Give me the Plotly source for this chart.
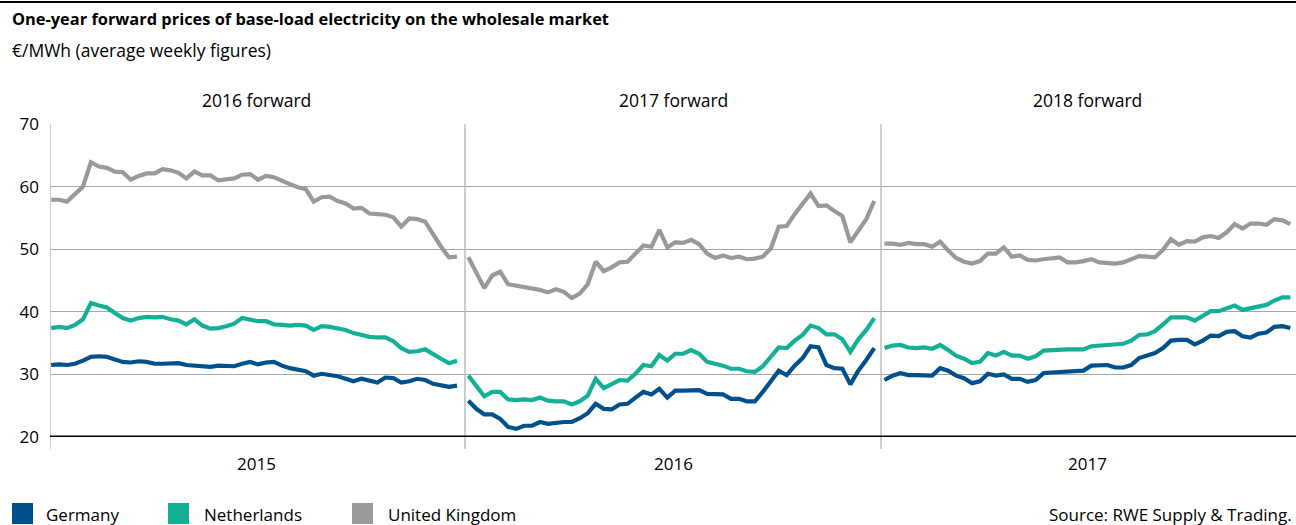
import pandas as pd
import plotly.graph_objects as go

# One-year forward prices, EUR/MWh, weekly averages per delivery year
forward_labels = ["2016 forward", "2017 forward", "2018 forward"]
trading_years = ["2015", "2016", "2017"]
week_starts = ["2015-01-02", "2016-01-04", "2017-01-04"]

germany_2016fwd = [31.5, 31.6, 31.5, 31.7, 32.2, 32.8, 32.9, 32.8, 32.4, 32.0,
                   31.9, 32.1, 32.0, 31.7, 31.7, 31.8, 31.8, 31.5, 31.4, 31.2,
                   31.2, 31.4, 31.3, 31.3, 31.7, 32.0, 31.6, 31.9, 32.0, 31.4,
                   31.0, 30.7, 30.5, 29.8, 30.1, 29.9, 29.7, 29.3, 28.9, 29.3,
                   29.0, 28.7, 29.5, 29.4, 28.7, 28.9, 29.3, 29.1, 28.5, 28.2,
                   28.0, 28.2]
netherlands_2016fwd = [37.4, 37.6, 37.4, 37.9, 38.8, 41.4, 41.0, 40.7, 39.8, 39.0,
                       38.6, 39.0, 39.2, 39.1, 39.2, 38.8, 38.6, 38.0, 38.8, 37.8,
                       37.3, 37.4, 37.7, 38.1, 39.0, 38.8, 38.5, 38.5, 38.0, 37.9,
                       37.8, 37.9, 37.8, 37.1, 37.7, 37.6, 37.4, 37.1, 36.6, 36.3,
                       36.0, 35.9, 35.9, 35.3, 34.2, 33.6, 33.7, 34.0, 33.2, 32.5,
                       31.8, 32.2]
uk_2016fwd = [57.9, 57.9, 57.6, 58.7, 60.0, 63.9, 63.2, 63.0, 62.4, 62.3,
              61.1, 61.7, 62.1, 62.1, 62.8, 62.6, 62.2, 61.3, 62.4, 61.8,
              61.8, 61.0, 61.1, 61.3, 61.9, 62.0, 61.1, 61.7, 61.5, 60.9,
              60.4, 59.9, 59.6, 57.6, 58.3, 58.4, 57.7, 57.3, 56.5, 56.6,
              55.7, 55.6, 55.5, 55.1, 53.6, 54.9, 54.8, 54.4, 52.3, 50.4,
              48.7, 48.8]

germany_2017fwd = [25.8, 24.5, 23.6, 23.6, 22.9, 21.6, 21.3, 21.8, 21.8, 22.4,
                   22.1, 22.3, 22.4, 22.4, 23.0, 23.8, 25.3, 24.5, 24.4, 25.2,
                   25.3, 26.3, 27.2, 26.8, 27.7, 26.3, 27.4, 27.4, 27.5, 27.5,
                   26.9, 26.9, 26.8, 26.1, 26.1, 25.7, 25.7, 27.2, 28.9, 30.6,
                   29.9, 31.4, 32.6, 34.5, 34.3, 31.5, 31.0, 30.9, 28.4, 30.6,
                   32.3, 34.2]
netherlands_2017fwd = [29.8, 28.1, 26.5, 27.2, 27.2, 26.0, 25.9, 26.0, 25.9, 26.3,
                       25.8, 25.7, 25.7, 25.2, 25.7, 26.6, 29.3, 27.8, 28.5, 29.1,
                       29.0, 30.1, 31.5, 31.3, 33.1, 32.2, 33.3, 33.3, 33.9, 33.3,
                       32.0, 31.7, 31.4, 30.9, 30.9, 30.5, 30.4, 31.3, 32.8, 34.3,
                       34.2, 35.4, 36.3, 37.8, 37.4, 36.4, 36.4, 35.6, 33.6, 35.6,
                       37.1, 39.0]
uk_2017fwd = [48.7, 46.2, 43.8, 45.8, 46.4, 44.4, 44.2, 44.0, 43.8, 43.5,
              43.1, 43.6, 43.2, 42.2, 42.9, 44.4, 48.0, 46.5, 47.1, 47.9,
              48.0, 49.3, 50.6, 50.4, 53.1, 50.3, 51.1, 51.0, 51.5, 50.8,
              49.3, 48.6, 49.0, 48.6, 48.8, 48.4, 48.5, 48.8, 50.1, 53.6,
              53.7, 55.6, 57.2, 58.9, 56.9, 57.0, 56.1, 55.3, 51.1, 53.1,
              54.8, 57.7]

germany_2018fwd = [29.1, 29.8, 30.2, 29.9, 29.9, 29.9, 29.8, 31.0, 30.6, 29.8,
                   29.4, 28.6, 28.9, 30.1, 29.8, 30.0, 29.3, 29.3, 28.8, 29.1,
                   30.2, 30.3, 30.4, 30.4, 30.6, 30.6, 31.4, 31.4, 31.5, 31.1,
                   31.1, 31.5, 32.6, 33.0, 33.4, 34.2, 35.4, 35.5, 35.5, 34.8,
                   35.4, 36.2, 36.1, 36.8, 36.9, 36.1, 35.9, 36.5, 36.7, 37.6,
                   37.7, 37.4]
netherlands_2018fwd = [34.2, 34.6, 34.7, 34.3, 34.2, 34.3, 34.1, 34.7, 33.9, 33.0,
                       32.5, 31.8, 32.0, 33.4, 33.0, 33.6, 33.0, 33.0, 32.5, 32.9,
                       33.8, 33.9, 34.0, 34.0, 34.0, 34.0, 34.5, 34.6, 34.8, 34.8,
                       34.9, 35.4, 36.3, 36.4, 36.9, 38.0, 39.1, 39.1, 39.1, 38.6,
                       39.3, 40.1, 40.1, 40.6, 41.0, 40.3, 40.6, 40.9, 41.1, 41.8,
                       42.3, 42.3]
uk_2018fwd = [50.9, 50.9, 50.7, 51.0, 50.8, 50.8, 50.4, 51.2, 49.8, 48.6,
              48.0, 47.7, 48.1, 49.3, 49.3, 50.3, 48.8, 49.0, 48.3, 48.2,
              48.4, 48.5, 48.7, 47.9, 47.9, 48.1, 48.4, 47.9, 47.8, 47.7,
              47.9, 48.4, 48.9, 48.8, 48.7, 49.9, 51.6, 50.7, 51.3, 51.2,
              51.9, 52.1, 51.8, 52.7, 54.0, 53.3, 54.1, 54.1, 53.9, 54.8,
              54.6, 54.0]

countries = ["Germany", "Netherlands", "United Kingdom"]
colors = {"Germany": "#00508c", "Netherlands": "#14b096", "United Kingdom": "#999999"}
panels = [
    {"Germany": germany_2016fwd, "Netherlands": netherlands_2016fwd, "United Kingdom": uk_2016fwd},
    {"Germany": germany_2017fwd, "Netherlands": netherlands_2017fwd, "United Kingdom": uk_2017fwd},
    {"Germany": germany_2018fwd, "Netherlands": netherlands_2018fwd, "United Kingdom": uk_2018fwd},
]

FONT = "Open Sans"
TXT = 17
W, H = 1296, 525
ML, MR, MT, MB = 50, 0, 124, 88
PW, PH = W - ML - MR, H - MT - MB


def px_x(p):
    return (p - ML) / PW


def px_y(p):
    return 1 - (p - MT) / PH


fig = go.Figure()
for start, panel in zip(week_starts, panels):
    for country in ["United Kingdom", "Netherlands", "Germany"]:
        vals = panel[country]
        dates = pd.date_range(start, periods=len(vals), freq="7D")
        fig.add_trace(go.Scatter(
            x=dates, y=vals, mode="lines", name=country, showlegend=False,
            line=dict(color=colors[country], width=4.2),
            hovertemplate=country + ": %{y:.1f} €/MWh<extra></extra>",
        ))

shapes = []
annotations = []

# rule across the top
shapes.append(dict(type="line", xref="paper", yref="paper",
                   x0=px_x(0), x1=px_x(W), y0=px_y(2), y1=px_y(2),
                   line=dict(color="#000000", width=2)))

# panel separators and left edge, extending below the axis
for boundary in ["2015-01-01", "2016-01-01", "2017-01-01"]:
    shapes.append(dict(type="line", xref="x", yref="paper",
                       x0=boundary, x1=boundary, y0=px_y(449), y1=1,
                       line=dict(color="#bdbdbd", width=1.5)))

# baseline at 20
shapes.append(dict(type="line", xref="paper", yref="y", x0=0, x1=1, y0=20, y1=20,
                   line=dict(color="#000000", width=3)))

annotations.append(dict(
    text="<b>One-year forward prices of base-load electricity on the wholesale market</b>",
    xref="paper", yref="paper", x=px_x(10), y=px_y(19), xanchor="left", yanchor="middle",
    showarrow=False, font=dict(family=FONT, size=16.4, color="#000000")))
annotations.append(dict(
    text="€/MWh (average weekly figures)",
    xref="paper", yref="paper", x=px_x(10), y=px_y(50), xanchor="left", yanchor="middle",
    showarrow=False, font=dict(family=FONT, size=17.5, color="#000000")))

for label, yr in zip(forward_labels, trading_years):
    mid = f"{yr}-07-02"
    annotations.append(dict(text=label, xref="x", yref="paper", x=mid, y=px_y(100),
                            xanchor="center", yanchor="middle", showarrow=False,
                            font=dict(family=FONT, size=17.5, color="#000000")))
    annotations.append(dict(text=yr, xref="x", yref="paper", x=mid, y=px_y(464),
                            xanchor="center", yanchor="middle", showarrow=False,
                            font=dict(family=FONT, size=TXT, color="#000000")))

# legend with square keys
legend_pos = [(12, 44), (168, 202), (352, 386)]
for country, (sx, tx) in zip(countries, legend_pos):
    shapes.append(dict(type="rect", xref="paper", yref="paper",
                       x0=px_x(sx), x1=px_x(sx + 21), y0=px_y(503), y1=px_y(524),
                       fillcolor=colors[country], line=dict(width=0)))
    annotations.append(dict(text=country, xref="paper", yref="paper",
                            x=px_x(tx), y=px_y(514), xanchor="left", yanchor="middle",
                            showarrow=False, font=dict(family=FONT, size=TXT, color="#000000")))

annotations.append(dict(text="Source: RWE Supply & Trading.", xref="paper", yref="paper",
                        x=px_x(1294), y=px_y(514), xanchor="right", yanchor="middle",
                        showarrow=False, font=dict(family=FONT, size=TXT, color="#000000")))

fig.update_layout(
    width=W, height=H,
    margin=dict(l=ML, r=MR, t=MT, b=MB, pad=0),
    paper_bgcolor="#ffffff", plot_bgcolor="#ffffff",
    font=dict(family=FONT, size=TXT, color="#000000"),
    shapes=shapes, annotations=annotations,
    xaxis=dict(type="date", range=["2015-01-01", "2018-01-01"], showgrid=False,
               showticklabels=False, zeroline=False, showline=False, ticks=""),
    yaxis=dict(range=[20, 70], tickvals=[20, 30, 40, 50, 60, 70], ticks="",
               showgrid=True, gridcolor="#a6a6a6", gridwidth=1.3, zeroline=False,
               showline=False, ticklabelstandoff=10,
               tickfont=dict(family=FONT, size=TXT, color="#000000")),
    showlegend=False,
)

fig.write_html("out.html")
